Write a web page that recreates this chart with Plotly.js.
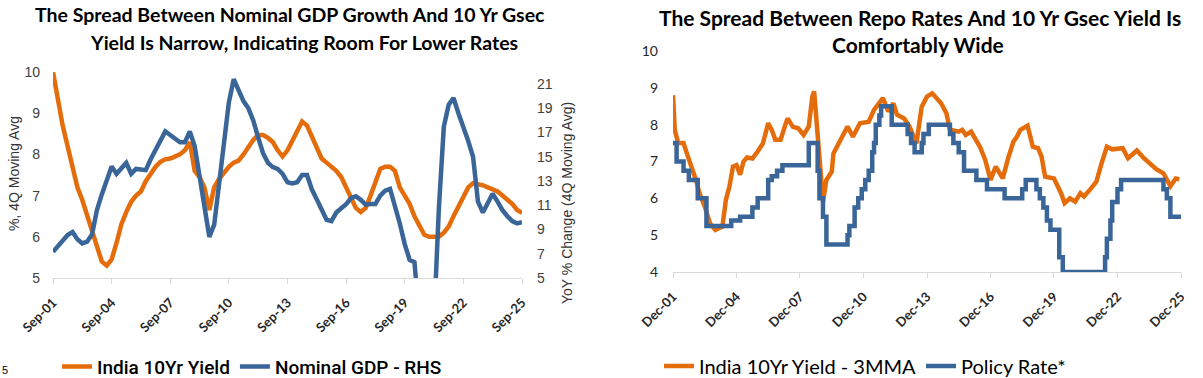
<!DOCTYPE html>
<html>
<head>
<meta charset="utf-8">
<script src="https://cdn.plot.ly/plotly-3.0.1.min.js"></script>
<style>
html,body{margin:0;padding:0;background:#fff;}
#chart{width:1203px;height:378px;}
</style>
</head>
<body>
<div id="chart"></div>
<script>
// ---------- Left chart: quarterly, Sep-01 .. Sep-25 ----------
const leftStart = {year: 2001, month: 9};
const leftCount = 97;
const quarterDates = [];
for (let i = 0; i < leftCount; i++) {
  const m = leftStart.month - 1 + 3 * i;
  const y = leftStart.year + Math.floor(m / 12);
  const mm = (m % 12) + 1;
  quarterDates.push(y + '-' + String(mm).padStart(2, '0') + '-01');
}
const india10yYield = [
  10.0, 9.3, 8.7, 8.2, 7.7, 7.2, 6.9, 6.5, 6.1, 5.75,
  5.4, 5.3, 5.45, 5.85, 6.3, 6.6, 6.85, 7.0, 7.1, 7.35,
  7.55, 7.7, 7.82, 7.88, 7.9, 7.95, 8.0, 8.1, 8.3, 7.6,
  7.45, 7.2, 6.65, 7.2, 7.4, 7.55, 7.7, 7.8, 7.85, 8.0,
  8.2, 8.35, 8.47, 8.47, 8.4, 8.3, 8.1, 7.95, 8.1, 8.35,
  8.6, 8.8, 8.7, 8.45, 8.2, 7.9, 7.8, 7.7, 7.6, 7.45,
  7.2, 6.95, 6.7, 6.6, 6.7, 7.0, 7.35, 7.65, 7.7, 7.7,
  7.6, 7.2, 7.0, 6.8, 6.5, 6.25, 6.05, 6.0, 6.0, 6.0,
  6.1, 6.25, 6.5, 6.75, 7.0, 7.2, 7.3, 7.28, 7.25, 7.2,
  7.15, 7.1, 7.0, 6.9, 6.8, 6.65, 6.58
];
const nominalGdp = [
  7.16, 7.6, 8.1, 8.55, 8.8, 8.2, 7.85, 8.0, 8.6, 10.6,
  11.9, 13.0, 14.2, 13.6, 14.1, 14.5, 13.6, 14.0, 13.95, 13.9,
  14.8, 15.6, 16.2, 17.1, 16.8, 16.5, 16.2, 16.2, 17.1, 15.9,
  13.6, 11.0, 8.4, 9.4, 12.9, 16.3, 19.5, 21.4, 20.6, 19.6,
  19.0, 18.0, 16.6, 15.3, 14.5, 14.15, 14.0, 13.6, 12.9, 12.8,
  12.9, 13.5, 13.5, 12.3, 11.5, 10.6, 9.8, 9.7, 10.4, 10.75,
  11.1, 11.6, 11.75, 11.45, 11.05, 11.1, 11.1, 11.8, 12.2, 12.35,
  11.0, 9.5, 7.8, 6.5, 6.3, 1.0, -3.0, -1.0, 1.5, 10.8,
  17.5, 19.3, 19.85, 18.6, 17.5, 16.3, 15.0, 11.3, 10.4, 11.1,
  11.95, 11.3, 10.6, 10.1, 9.7, 9.5, 9.6
];
const leftTickDates = ['2001-09-01','2004-09-01','2007-09-01','2010-09-01','2013-09-01','2016-09-01','2019-09-01','2022-09-01','2025-09-01'];
const leftTickLabels = ['Sep-01','Sep-04','Sep-07','Sep-10','Sep-13','Sep-16','Sep-19','Sep-22','Sep-25'];

// ---------- Right chart ----------
const yield3mmaDates = [
  '2001-12','2002-01','2002-03','2002-06','2002-08','2002-10','2003-01','2003-03','2003-06','2003-09',
  '2003-12','2004-02','2004-04','2004-06','2004-08','2004-10','2004-12','2005-02','2005-04','2005-06',
  '2005-09','2005-12','2006-03','2006-06','2006-08','2006-10','2007-01','2007-04','2007-05','2007-08',
  '2007-11','2008-02','2008-05','2008-07','2008-08','2008-09','2008-11','2009-01','2009-03','2009-06',
  '2009-07','2009-10','2010-03','2010-06','2010-10','2011-03','2011-06','2011-11','2012-02','2012-05',
  '2012-07','2012-11','2013-02','2013-06','2013-09','2013-12','2014-03','2014-08','2014-11','2015-01',
  '2015-06','2015-08','2015-10','2016-01','2016-06','2016-09','2016-12','2017-03','2017-07','2017-10',
  '2018-01','2018-03','2018-05','2018-09','2018-12','2019-03','2019-05','2019-07','2019-12','2020-04',
  '2020-06','2020-09','2020-12','2021-03','2021-05','2021-09','2021-12','2022-03','2022-06','2022-09',
  '2022-12','2023-03','2023-06','2023-11','2024-03','2024-06','2024-10','2025-02','2025-06','2025-09',
  '2025-11'
];
const yield3mma = [
  8.8, 7.85, 7.5, 7.5, 7.2, 6.95, 6.5, 6.15, 5.78, 5.32,
  5.14, 5.19, 5.23, 5.96, 6.32, 6.86, 6.9, 6.64, 7.0, 7.11,
  7.08, 7.27, 7.49, 8.04, 7.86, 7.59, 7.59, 8.04, 8.17, 7.94,
  7.9, 7.72, 7.95, 8.76, 8.9, 8.31, 7.13, 5.91, 6.5, 6.72,
  7.22, 7.49, 7.95, 7.67, 8.04, 8.08, 8.4, 8.72, 8.36, 8.58,
  8.27, 8.17, 7.95, 7.49, 8.49, 8.76, 8.85, 8.58, 8.31, 7.86,
  7.81, 7.86, 7.72, 7.81, 7.4, 7.04, 6.5, 6.86, 6.54, 7.09,
  7.54, 7.67, 7.86, 7.97, 7.4, 7.36, 7.13, 6.59, 6.54, 6.14,
  5.87, 6.0, 5.91, 6.14, 6.05, 6.27, 6.45, 6.95, 7.4, 7.33,
  7.36, 7.36, 7.09, 7.3, 7.09, 6.95, 6.79, 6.68, 6.33, 6.54,
  6.52
];
const policyDates = [
  '2001-12','2002-02','2002-06','2002-09','2003-02','2003-07','2004-09','2005-02','2005-09','2005-12',
  '2006-06','2006-08','2006-11','2007-02','2008-05','2008-10','2008-11','2009-01','2009-03','2010-03',
  '2010-04','2010-07','2010-09','2010-11','2011-01','2011-03','2011-05','2011-06','2011-07','2011-09',
  '2011-10','2012-04','2013-01','2013-03','2013-05','2013-09','2013-10','2014-01','2015-01','2015-03',
  '2015-06','2015-09','2016-04','2016-10','2017-08','2018-06','2018-08','2019-02','2019-04','2019-06',
  '2019-08','2019-10','2020-03','2020-05','2022-05','2022-06','2022-08','2022-09','2022-12','2023-02',
  '2025-02','2025-04','2025-06','2025-12'
];
const policyRate = [
  7.5, 7.0, 6.75, 6.5, 6.0, 5.25, 5.4, 5.5, 5.75, 6.0,
  6.5, 6.6, 6.75, 6.9, 7.5, 6.75, 6.0, 5.5, 4.75, 5.0,
  5.25, 5.75, 6.0, 6.25, 6.5, 6.75, 7.25, 7.5, 8.0, 8.25,
  8.5, 8.0, 7.75, 7.5, 7.25, 7.5, 7.75, 8.0, 7.75, 7.5,
  7.25, 6.75, 6.5, 6.25, 6.0, 6.25, 6.5, 6.25, 6.0, 5.75,
  5.4, 5.15, 4.4, 4.0, 4.4, 4.9, 5.4, 5.9, 6.25, 6.5,
  6.25, 6.0, 5.5, 5.5
];
const rightTickDates = ['2001-12-01','2004-12-01','2007-12-01','2010-12-01','2013-12-01','2016-12-01','2019-12-01','2022-12-01','2025-12-01'];
const rightTickLabels = ['Dec-01','Dec-04','Dec-07','Dec-10','Dec-13','Dec-16','Dec-19','Dec-22','Dec-25'];

// ---------- Styling ----------
const W = 1203, H = 378;
const ORANGE = '#E46C0A';
const BLUE = '#3A6598';
const px = v => v / W;
const py = v => 1 - v / H;

const traces = [
  {x: quarterDates, y: india10yYield, type: 'scatter', mode: 'lines', name: 'India 10Yr Yield',
   xaxis: 'x', yaxis: 'y', line: {color: ORANGE, width: 4.5}, legend: 'legend'},
  {x: quarterDates, y: nominalGdp, type: 'scatter', mode: 'lines', name: 'Nominal GDP - RHS',
   xaxis: 'x', yaxis: 'y2', line: {color: BLUE, width: 4.5}, legend: 'legend'},
  {x: yield3mmaDates, y: yield3mma, type: 'scatter', mode: 'lines', name: 'India 10Yr Yield - 3MMA',
   xaxis: 'x3', yaxis: 'y3', line: {color: ORANGE, width: 4.5}, legend: 'legend2'},
  {x: policyDates, y: policyRate, type: 'scatter', mode: 'lines', name: 'Policy Rate*',
   xaxis: 'x3', yaxis: 'y3', line: {color: BLUE, width: 4.5, shape: 'hv'}, legend: 'legend2'}
];

const xTickFont = {family: 'Lato, sans-serif', size: 13, color: '#262626', weight: 'bold'};
const titleFontL = {family: 'Lato, sans-serif', size: 19.5, color: '#000', weight: 'bold'};
const titleFontR = {family: 'Lato, sans-serif', size: 21, color: '#000', weight: 'bold'};
const layout = {
  width: W, height: H,
  margin: {l: 0, r: 0, t: 0, b: 0, autoexpand: false},
  paper_bgcolor: '#fff', plot_bgcolor: 'rgba(0,0,0,0)',
  showlegend: true,
  xaxis: {
    domain: [px(53), px(522)], anchor: 'y', type: 'date',
    range: ['2001-09-01', '2025-09-01'],
    tickmode: 'array', tickvals: leftTickDates, ticktext: leftTickLabels,
    tickangle: -45, tickfont: xTickFont, ticklabelstandoff: 6,
    ticks: 'outside', ticklen: 5, tickcolor: '#d9d9d9',
    showline: true, linecolor: '#d9d9d9', linewidth: 1,
    showgrid: false, zeroline: false, automargin: false
  },
  yaxis: {
    domain: [1 - 278 / H, 1 - 72 / H], anchor: 'x',
    range: [5, 10], dtick: 1, showgrid: false, zeroline: false, showline: false,
    tickfont: {family: 'Liberation Sans, Arial, sans-serif', size: 14, color: '#404040'},
    ticklabelstandoff: 12, automargin: false
  },
  yaxis2: {
    overlaying: 'y', side: 'right', anchor: 'x',
    range: [5, 22], tickmode: 'array', tickvals: [5, 7, 9, 11, 13, 15, 17, 19, 21],
    showgrid: false, zeroline: false, showline: false,
    tickfont: {family: 'Liberation Sans, Arial, sans-serif', size: 14, color: '#404040'},
    ticklabelstandoff: 14, automargin: false
  },
  xaxis3: {
    domain: [px(673), px(1181)], anchor: 'y3', type: 'date',
    range: ['2001-12-01', '2025-12-01'],
    tickmode: 'array', tickvals: rightTickDates, ticktext: rightTickLabels,
    tickangle: -45, tickfont: xTickFont, ticklabelstandoff: 6,
    ticks: 'outside', ticklen: 5, tickcolor: '#d9d9d9',
    showline: true, linecolor: '#d9d9d9', linewidth: 1,
    showgrid: false, zeroline: false, automargin: false
  },
  yaxis3: {
    domain: [1 - 272 / H, 1 - 51 / H], anchor: 'x3',
    range: [4, 10], dtick: 1, showgrid: false, zeroline: false, showline: false,
    tickfont: {family: 'Lato, sans-serif', size: 14, color: '#262626'},
    ticklabelstandoff: 14, automargin: false
  },
  legend: {
    orientation: 'h', x: px(252), y: -0.02, xanchor: 'center', yanchor: 'bottom',
    font: {family: 'Roboto, sans-serif', size: 19, color: '#000', weight: 500},
    itemwidth: 30, tracegroupgap: 0, bgcolor: 'rgba(0,0,0,0)'
  },
  legend2: {
    orientation: 'h', x: px(865), y: -0.02, xanchor: 'center', yanchor: 'bottom',
    font: {family: 'Lato, sans-serif', size: 20, color: '#000'},
    itemwidth: 30, tracegroupgap: 0, bgcolor: 'rgba(0,0,0,0)'
  },
  annotations: [
    {text: 'The Spread Between Nominal GDP Growth And 10 Yr Gsec', xref: 'paper', yref: 'paper',
     x: px(290), y: py(15), xanchor: 'center', yanchor: 'middle', showarrow: false, font: titleFontL},
    {text: 'Yield Is Narrow, Indicating Room For Lower Rates', xref: 'paper', yref: 'paper',
     x: px(304), y: py(42), xanchor: 'center', yanchor: 'middle', showarrow: false, font: titleFontL},
    {text: 'The Spread Between Repo Rates And 10 Yr Gsec Yield Is', xref: 'paper', yref: 'paper',
     x: px(920), y: py(17), xanchor: 'center', yanchor: 'middle', showarrow: false, font: titleFontR},
    {text: 'Comfortably Wide', xref: 'paper', yref: 'paper',
     x: px(918), y: py(44), xanchor: 'center', yanchor: 'middle', showarrow: false, font: titleFontR},
    {text: '%, 4Q Moving Avg', xref: 'paper', yref: 'paper', textangle: -90,
     x: px(14), y: py(174), xanchor: 'center', yanchor: 'middle', showarrow: false,
     font: {family: 'Liberation Sans, Arial, sans-serif', size: 14, color: '#333'}},
    {text: 'YoY % Change (4Q Moving Avg)', xref: 'paper', yref: 'paper', textangle: -90,
     x: px(567), y: py(203), xanchor: 'center', yanchor: 'middle', showarrow: false,
     font: {family: 'Liberation Sans, Arial, sans-serif', size: 14, color: '#333'}},
    {text: '5', xref: 'paper', yref: 'paper',
     x: px(5), y: py(370), xanchor: 'center', yanchor: 'middle', showarrow: false,
     font: {family: 'Liberation Sans, Arial, sans-serif', size: 11, color: '#000'}}
  ]
};

Plotly.newPlot('chart', traces, layout, {staticPlot: true, displayModeBar: false});
</script>
</body>
</html>
